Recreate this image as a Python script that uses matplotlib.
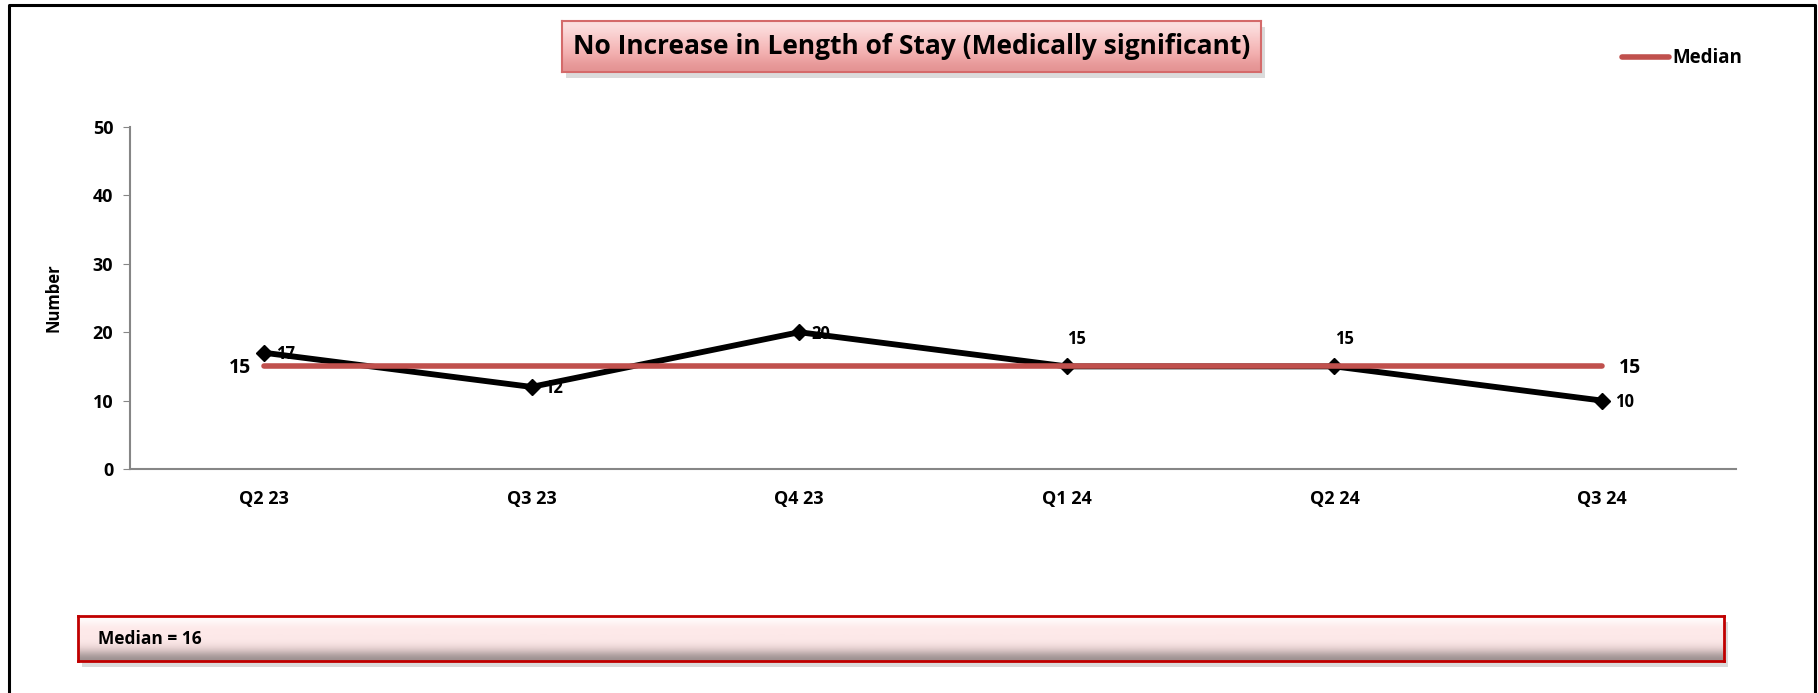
import numpy as np
import matplotlib.pyplot as plt
from matplotlib.patches import Rectangle

plt.rcParams['font.family'] = ['Open Sans', 'DejaVu Sans']
plt.rcParams['font.weight'] = 'bold'
plt.rcParams['axes.labelweight'] = 'bold'

quarters = ['Q2 23', 'Q3 23', 'Q4 23', 'Q1 24', 'Q2 24', 'Q3 24']
counts = [17, 12, 20, 15, 15, 10]
median_vals = [15, 15, 15, 15, 15, 15]
title = 'No Increase in Length of Stay (Medically significant)'
note = 'Median = 16'

W, H = 1818, 693
fig = plt.figure(figsize=(W / 100, H / 100), dpi=100)


def fx(px):
    return px / W


def fy(py):
    return 1 - py / H


# outer frame (left, top, right only)
fig.add_artist(plt.Line2D([fx(9), fx(9), fx(1815), fx(1815)], [0, fy(5), fy(5), 0],
                          color='black', lw=2.2, transform=fig.transFigure))

ax = fig.add_axes([fx(130), fy(469), fx(1736) - fx(130), fy(127) - fy(469)])
x = np.arange(len(quarters))
ax.plot(x, counts, color='black', lw=4.2, marker='D', ms=8, zorder=3)
ax.plot(x, median_vals, color='#C0504D', lw=4, solid_capstyle='round', zorder=4)

ax.set_xlim(-0.5, len(quarters) - 0.5)
ax.set_ylim(0, 50)
ax.set_yticks(range(0, 51, 10))
ax.set_xticks(x)
ax.set_xticklabels(quarters, fontweight='bold')
ax.set_yticklabels([str(v) for v in range(0, 51, 10)], fontweight='bold')
ax.tick_params(axis='x', length=0, pad=15, labelsize=13)
ax.tick_params(axis='y', length=5, color='#868686', labelsize=13, pad=7)
for s in ['top', 'right']:
    ax.spines[s].set_visible(False)
for s in ['left', 'bottom']:
    ax.spines[s].set_color('#868686')
    ax.spines[s].set_linewidth(1.5)
ax.set_ylabel('Number', fontsize=12, labelpad=22, fontweight='bold')

# data labels
for i, v in enumerate(counts):
    if i in (3, 4):
        ax.annotate(str(v), (i, v), xytext=(7, 20), textcoords='offset points',
                    ha='center', va='center', fontsize=12, fontweight='bold', zorder=2)
    else:
        ax.annotate(str(v), (i, v), xytext=(9, -1), textcoords='offset points',
                    ha='left', va='center', fontsize=12, fontweight='bold', zorder=2)
ax.annotate(str(median_vals[0]), (0, median_vals[0]), xytext=(-9, -1), textcoords='offset points',
            ha='right', va='center', fontsize=14, fontweight='bold')
ax.annotate(str(median_vals[-1]), (x[-1], median_vals[-1]), xytext=(12, -1), textcoords='offset points',
            ha='left', va='center', fontsize=14, fontweight='bold')

# legend
fig.add_artist(plt.Line2D([fx(1622), fx(1669)], [fy(57), fy(57)], color='#C0504D', lw=4,
                          solid_capstyle='round', transform=fig.transFigure))
fig.text(fx(1672), fy(58), 'Median', fontsize=13.5, va='center', ha='left', fontweight='bold')


def gradient_box(x0, y0, x1, y1, colors, edge, lw, shadow=6):
    # shadow
    fig.add_artist(Rectangle((fx(x0 + shadow * 0.6), fy(y1 + shadow)), fx(x1 - x0), fy(y0) - fy(y1),
                             transform=fig.transFigure, facecolor='#b0b0b0', edgecolor='none',
                             alpha=0.45, zorder=1))
    bax = fig.add_axes([fx(x0), fy(y1), fx(x1 - x0), fy(y0) - fy(y1)], zorder=2)
    grad = np.array(colors)[:, None, :]
    bax.imshow(grad, aspect='auto', extent=[0, 1, 0, 1], interpolation='bicubic')
    bax.set_xlim(0, 1)
    bax.set_ylim(0, 1)
    bax.set_xticks([])
    bax.set_yticks([])
    for s in bax.spines.values():
        s.set_color(edge)
        s.set_linewidth(lw)
    return bax


def hexrgb(h):
    h = h.lstrip('#')
    return [int(h[i:i + 2], 16) / 255 for i in (0, 2, 4)]


tbox = gradient_box(562, 21, 1261, 72,
                    [hexrgb(c) for c in ['#fce0e0', '#f9cccc', '#f6bcbc', '#f1aaaa', '#e49393']],
                    '#d46a6a', 1.5)
tbox.text(0.5, 0.5, title, ha='center', va='center', fontsize=19, fontweight='bold',
          transform=tbox.transAxes)

nbox = gradient_box(78, 616, 1724, 661,
                    [hexrgb(c) for c in ['#ffffff', '#fde9e9', '#fde9e9', '#fde9e9', '#e6cfcf', '#9a8f8f']],
                    '#c00000', 2)
nbox.text(0.012, 0.5, note, ha='left', va='center', fontsize=12.5, fontweight='bold',
          transform=nbox.transAxes)

fig.savefig('out.png', dpi=100)
